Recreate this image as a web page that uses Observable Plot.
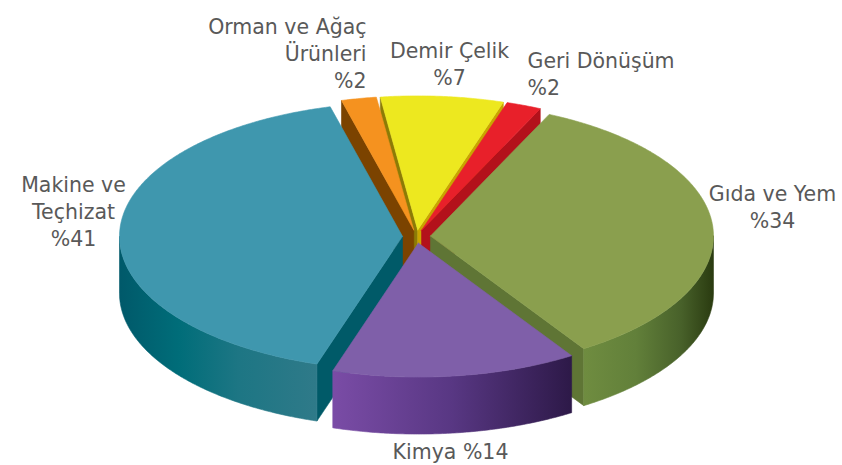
<!DOCTYPE html>
<html>
<head>
<meta charset="utf-8">
<script src="https://cdn.jsdelivr.net/npm/d3@7"></script>
<script src="https://cdn.jsdelivr.net/npm/@observablehq/plot@0.6"></script>
<style>
  html, body { margin: 0; padding: 0; background: #ffffff; }
  #chart { width: 842px; height: 465px; }
</style>
</head>
<body>
<div id="chart"></div>
<script>
// ---- data ----
const sectors = ["Gıda ve Yem", "Kimya", "Makine ve Teçhizat", "Orman ve Ağaç Ürünleri", "Demir Çelik", "Geri Dönüşüm"];
const shares = [34, 14, 41, 2, 7, 2];
const labelLines = [
  ["Gıda ve Yem", "%34"],
  ["Kimya %14"],
  ["Makine ve", "Teçhizat", "%41"],
  ["Orman ve Ağaç", "Ürünleri", "%2"],
  ["Demir Çelik", "%7"],
  ["Geri Dönüşüm", "%2"]
];

// ---- styles ----
const topColors = ["#8a9f4e", "#7f5fa9", "#3f97ae", "#f5921f", "#ede81f", "#e8202a"];
const startWallColors = [null, null, "#005a68", "#7b4300", "#8c7b06", null];
const endWallColors = ["#5f7535", null, null, null, "#c9a500", "#b3111b"];
const outerGradients = [
  [[0, "#6f8c40"], [0.4, "#62803a"], [0.75, "#48612a"], [1, "#2a3b10"]],
  [[0, "#7a4ca6"], [0.5, "#583783"], [1, "#2d1948"]],
  [[0, "#00596a"], [0.3, "#006d79"], [0.6, "#1d7684"], [1, "#2f7a89"]],
  null, null, null
];

// ---- layout ----
const L = {cx: 416, cy: 236, rx: 283, ry: 134, depth: 57, explode: 14, startDeg: 24.8};
const labelLayout = [
  {px: 772, py: 227, anchor: "middle"},
  {px: 450, py: 458, anchor: "middle"},
  {px: 73, py: 245, anchor: "middle"},
  {px: 366, py: 87, anchor: "end"},
  {px: 449, py: 84, anchor: "middle"},
  {px: 527, py: 94, anchor: "start"}
];

const rad = d => d * Math.PI / 180;
const arcs = d3.pie().sort(null).value(d => d)
  .startAngle(rad(L.startDeg)).endAngle(rad(L.startDeg + 360))(shares);

const E = L.explode / L.rx;
const DV = L.depth / L.ry;

function pt(a, ox, oy, z) { return {x: ox + Math.sin(a), y: oy - Math.cos(a) + z}; }
function arcPts(a0, a1, ox, oy, z) {
  const n = Math.max(2, Math.ceil(Math.abs(a1 - a0) / rad(0.5)));
  const p = [];
  for (let k = 0; k <= n; k++) p.push(pt(a0 + (a1 - a0) * k / n, ox, oy, z));
  return p;
}

const walls = [];
const tops = [];
arcs.forEach((s, i) => {
  const a0 = s.startAngle, a1 = s.endAngle, m = (a0 + a1) / 2;
  const ox = E * Math.sin(m), oy = -E * Math.cos(m);
  const apexT = {x: ox, y: oy}, apexB = {x: ox, y: oy + DV};
  // top
  const top = [apexT, ...arcPts(a0, a1, ox, oy, 0), apexT];
  tops.push({pts: top, fill: topColors[i]});
  // radial walls facing the viewer
  if (Math.sin(a0) < 0 && startWallColors[i]) {
    const r0 = pt(a0, ox, oy, 0), r0b = pt(a0, ox, oy, DV);
    walls.push({pts: [apexT, r0, r0b, apexB, apexT], fill: startWallColors[i]});
  }
  if (Math.sin(a1) > 0 && endWallColors[i]) {
    const r1 = pt(a1, ox, oy, 0), r1b = pt(a1, ox, oy, DV);
    walls.push({pts: [apexT, r1, r1b, apexB, apexT], fill: endWallColors[i]});
  }
  // outer wall: front half (90deg..270deg), handle wrap
  const ranges = [[rad(90), rad(270)], [rad(450), rad(630)]];
  ranges.forEach(([f0, f1]) => {
    const b0 = Math.max(a0, f0), b1 = Math.min(a1, f1);
    if (b1 > b0 && outerGradients[i]) {
      const topArc = arcPts(b0, b1, ox, oy, 0);
      const botArc = arcPts(b1, b0, ox, oy, DV);
      walls.push({pts: [...topArc, ...botArc, topArc[0]], fill: `url(#grad${i})`});
    }
  });
});
walls.forEach(w => { w.order = d3.mean(w.pts, p => p.y); });
walls.sort((a, b) => a.order - b.order);

const faceMarks = [...walls, ...tops].map(f =>
  Plot.line(f.pts, {x: "x", y: "y", fill: f.fill, stroke: f.fill, strokeWidth: 0.6, strokeLinejoin: "round", curve: "linear"})
);

const labels = labelLines.map((lines, i) => ({
  text: lines.join("\n"),
  x: (labelLayout[i].px - L.cx) / L.rx,
  y: (labelLayout[i].py - L.cy) / L.ry,
  anchor: labelLayout[i].anchor
}));
const fontSize = 20.5;
const textMarks = ["start", "middle", "end"].map(anc =>
  Plot.text(labels.filter(d => d.anchor === anc), {
    x: "x", y: "y", text: "text", textAnchor: anc, lineAnchor: "bottom",
    lineHeight: 27 / fontSize, fontSize, fill: "#595959",
    fontFamily: "DejaVu Sans"
  })
);

const chart = Plot.plot({
  width: 842,
  height: 465,
  margin: 0,
  x: {domain: [-1, 1], range: [L.cx - L.rx, L.cx + L.rx], axis: null},
  y: {domain: [-1, 1], range: [L.cy - L.ry, L.cy + L.ry], axis: null},
  style: {background: "#ffffff"},
  marks: [...faceMarks, ...textMarks]
});

const defs = d3.select(chart).insert("defs", ":first-child");
outerGradients.forEach((stops, i) => {
  if (!stops) return;
  const lg = defs.append("linearGradient").attr("id", `grad${i}`)
    .attr("x1", 0).attr("x2", 1).attr("y1", 0).attr("y2", 0);
  stops.forEach(([o, c]) => lg.append("stop").attr("offset", o).attr("stop-color", c));
});
document.getElementById("chart").appendChild(chart);
</script>
</body>
</html>
